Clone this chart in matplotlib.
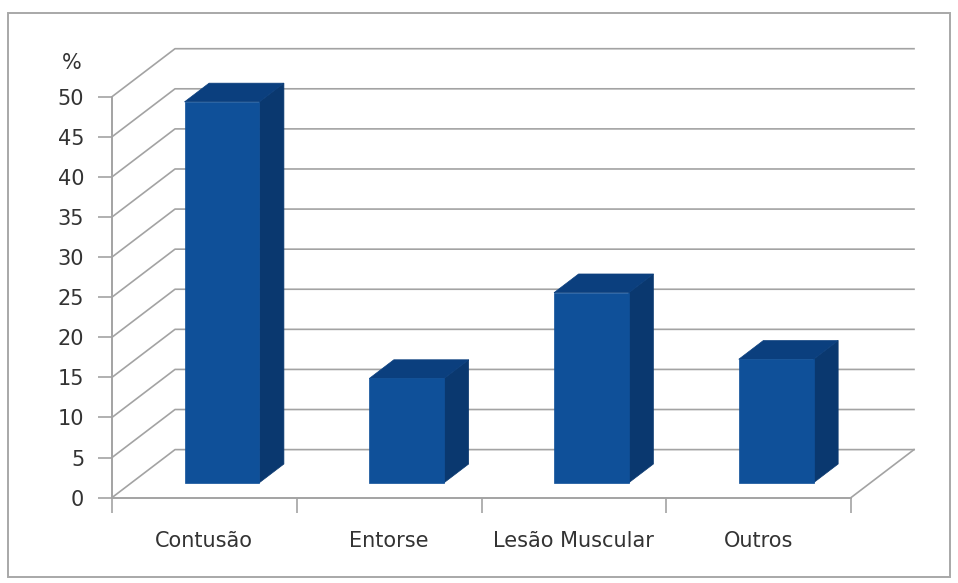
import matplotlib
matplotlib.use("Agg")
import matplotlib.pyplot as plt
from matplotlib.patches import Polygon, Rectangle
import numpy as np

categories = ["Contusão", "Entorse", "Lesão Muscular", "Outros"]
values = [47.5, 13, 23.7, 15.4]
y_ticks = list(range(0, 55, 5))

# oblique projection of the fake 3d, in data units per unit of depth
DEPTH_X = 63 / 184.75
DEPTH_Y = 48 / 8.02
BAR_WIDTH = 0.405
BAR_FRONT = 0.31
BAR_BACK = 0.70
GRID = "#a3a3a3"
TEXT = "#333333"


def project(x, y, depth):
    return (x + depth * DEPTH_X, y + depth * DEPTH_Y)


W, H = 958, 583
fig = plt.figure(figsize=(W / 100, H / 100), dpi=100)
fig.patches.append(Rectangle((8 / W, 1 - 577 / H), 942 / W, 564 / H, transform=fig.transFigure,
                             facecolor="white", edgecolor="#a8a8a8", linewidth=1.4, zorder=-1))

ax = fig.add_axes([112 / W, 1 - 497.6 / H, 739 / W, 400.9 / H])
ax.patch.set_alpha(0)
ax.set_xlim(0, len(categories))
ax.set_ylim(0, 50)

# back wall gridlines and the diagonals on the side wall
for t in y_ticks:
    x0, y0 = project(0, t, 0)
    x1, y1 = project(0, t, 1)
    x2, y2 = project(len(categories), t, 1)
    ax.plot([x0, x1, x2], [y0, y1, y2], color=GRID, lw=1.2, clip_on=False, zorder=1)

# right edge of the floor
x0, y0 = project(len(categories), 0, 0)
x1, y1 = project(len(categories), 0, 1)
ax.plot([x0, x1], [y0, y1], color=GRID, lw=1.2, clip_on=False, zorder=1)

for i, v in enumerate(values):
    left = i + 0.5 - BAR_WIDTH / 2 - BAR_FRONT * DEPTH_X + 0.095
    right = left + BAR_WIDTH
    fl = project(left, 0, BAR_FRONT)
    fr = project(right, 0, BAR_FRONT)
    tl = project(left, v, BAR_FRONT)
    tr = project(right, v, BAR_FRONT)
    br = project(right, 0, BAR_BACK)
    btr = project(right, v, BAR_BACK)
    btl = project(left, v, BAR_BACK)
    ax.add_patch(Polygon([fr, br, btr, tr], facecolor="#0a386f", edgecolor="#0a386f", lw=0.5, clip_on=False, zorder=3))
    ax.add_patch(Polygon([tl, tr, btr, btl], facecolor="#0b3f7e", edgecolor="#0b3f7e", lw=0.5, clip_on=False, zorder=3))
    ax.add_patch(Polygon([fl, fr, tr, tl], facecolor="#0f5099", edgecolor="#0f5099", lw=0.5, clip_on=False, zorder=4))

for side in ["top", "right"]:
    ax.spines[side].set_visible(False)
for side in ["left", "bottom"]:
    ax.spines[side].set_color(GRID)
    ax.spines[side].set_linewidth(1.4)

ax.set_yticks(y_ticks)
ax.set_xticks(np.arange(len(categories) + 1))
ax.set_xticklabels([])
ax.set_xticks(np.arange(len(categories)) + 0.5, minor=True)
ax.set_xticklabels(categories, minor=True)
ax.tick_params(axis="y", length=10, width=1.2, color=GRID, pad=10, labelsize=15, labelcolor=TEXT)
ax.tick_params(axis="x", which="major", length=11, width=1.2, color=GRID)
ax.tick_params(axis="x", which="minor", length=0, pad=24, labelsize=15, labelcolor=TEXT)
ax.text(-0.217, 54.2, "%", ha="center", va="center", fontsize=15, color=TEXT)

fig.savefig("out.png", dpi=100)
